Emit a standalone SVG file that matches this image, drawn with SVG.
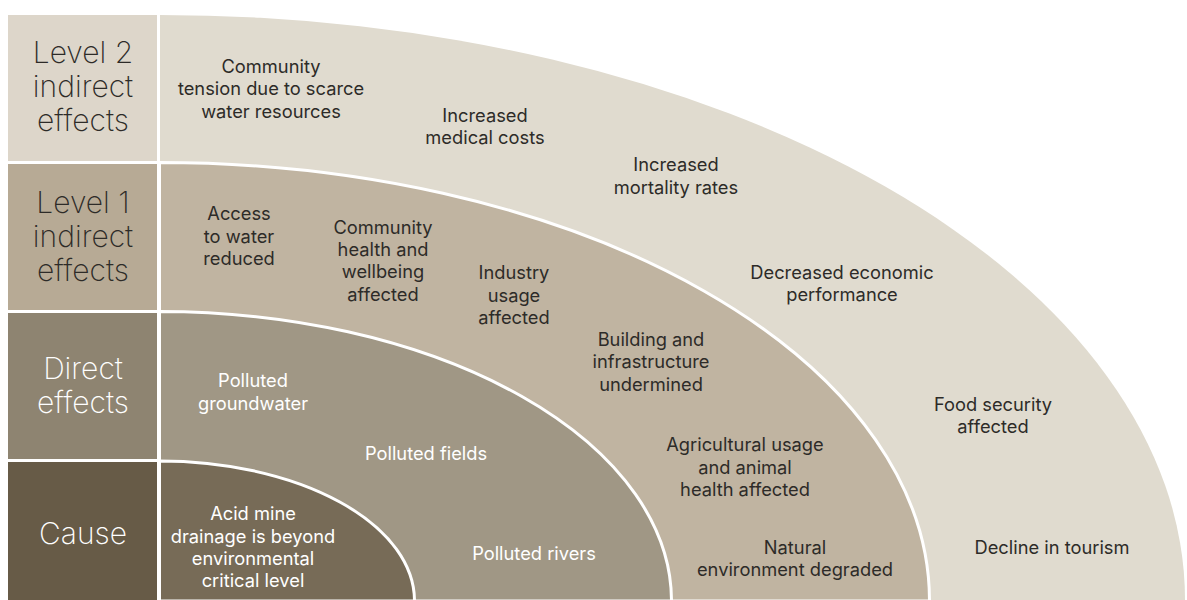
<svg xmlns="http://www.w3.org/2000/svg" width="1187" height="600" viewBox="0 0 1187 600">
  <style>
    .lbl { font-family: Inter, "Liberation Sans", sans-serif; font-size: 30px; font-weight: 200; text-anchor: middle; }
    .txt { font-family: Inter, "Liberation Sans", sans-serif; font-size: 18.3px; font-weight: 400; text-anchor: middle; }
    .dark { fill: #2d2b28; }
    .light { fill: #ffffff; }
    .band { stroke: #ffffff; stroke-width: 3; }
  </style>
  <rect width="1187" height="600" fill="#ffffff"/>

  <!-- concentric quarter-ellipse bands, outermost first -->
  <g id="bands">
    <path id="band-level2" d="M160,600 L160,15 A1025,585 0 0 1 1185,600 Z" fill="#e0dbcf"/>
    <path id="band-level1" class="band" d="M159.5,601 L159.5,162.5 A770,438.5 0 0 1 929.5,601 Z" fill="#c0b4a1"/>
    <path id="band-direct" class="band" d="M159.5,601 L159.5,311.5 A512,289.5 0 0 1 671.5,601 Z" fill="#a09785"/>
    <path id="band-cause" class="band" d="M159.5,601 L159.5,461 A255,140 0 0 1 414.5,601 Z" fill="#776b57"/>
  </g>

  <!-- row headings -->
  <g id="head-level2">
    <rect x="8" y="15" width="149" height="146" fill="#ddd6ca"/>
    <text class="lbl dark" x="83" y="63">Level 2</text>
    <text class="lbl dark" x="83" y="97">indirect</text>
    <text class="lbl dark" x="83" y="131">effects</text>
  </g>
  <g id="head-level1">
    <rect x="8" y="164" width="149" height="146" fill="#b7aa95"/>
    <text class="lbl dark" x="83" y="213">Level 1</text>
    <text class="lbl dark" x="83" y="247">indirect</text>
    <text class="lbl dark" x="83" y="281">effects</text>
  </g>
  <g id="head-direct">
    <rect x="8" y="313" width="149" height="146" fill="#8e8471"/>
    <text class="lbl light" x="83" y="379">Direct</text>
    <text class="lbl light" x="83" y="413">effects</text>
  </g>
  <g id="head-cause">
    <rect x="8" y="462" width="149" height="138" fill="#675b47"/>
    <text class="lbl light" x="83" y="544">Cause</text>
  </g>

  <!-- level 2 indirect effects -->
  <g id="n-tension">
    <text class="txt dark" x="271" y="73">Community</text>
    <text class="txt dark" x="271" y="95">tension due to scarce</text>
    <text class="txt dark" x="271" y="118">water resources</text>
  </g>
  <g id="n-medical">
    <text class="txt dark" x="485" y="122">Increased</text>
    <text class="txt dark" x="485" y="144">medical costs</text>
  </g>
  <g id="n-mortality">
    <text class="txt dark" x="676" y="171">Increased</text>
    <text class="txt dark" x="676" y="194">mortality rates</text>
  </g>
  <g id="n-economic">
    <text class="txt dark" x="842" y="279">Decreased economic</text>
    <text class="txt dark" x="842" y="301">performance</text>
  </g>
  <g id="n-food">
    <text class="txt dark" x="993" y="411">Food security</text>
    <text class="txt dark" x="993" y="433">affected</text>
  </g>
  <g id="n-tourism">
    <text class="txt dark" x="1052" y="554">Decline in tourism</text>
  </g>

  <!-- level 1 indirect effects -->
  <g id="n-access">
    <text class="txt dark" x="239" y="220">Access</text>
    <text class="txt dark" x="239" y="243">to water</text>
    <text class="txt dark" x="239" y="265">reduced</text>
  </g>
  <g id="n-health">
    <text class="txt dark" x="383" y="234">Community</text>
    <text class="txt dark" x="383" y="256">health and</text>
    <text class="txt dark" x="383" y="278">wellbeing</text>
    <text class="txt dark" x="383" y="301">affected</text>
  </g>
  <g id="n-industry">
    <text class="txt dark" x="514" y="279">Industry</text>
    <text class="txt dark" x="514" y="302">usage</text>
    <text class="txt dark" x="514" y="324">affected</text>
  </g>
  <g id="n-infrastructure">
    <text class="txt dark" x="651" y="346">Building and</text>
    <text class="txt dark" x="651" y="368">infrastructure</text>
    <text class="txt dark" x="651" y="391">undermined</text>
  </g>
  <g id="n-agriculture">
    <text class="txt dark" x="745" y="451">Agricultural usage</text>
    <text class="txt dark" x="745" y="474">and animal</text>
    <text class="txt dark" x="745" y="496">health affected</text>
  </g>
  <g id="n-environment">
    <text class="txt dark" x="795" y="554">Natural</text>
    <text class="txt dark" x="795" y="576">environment degraded</text>
  </g>

  <!-- direct effects -->
  <g id="n-groundwater">
    <text class="txt light" x="253" y="387">Polluted</text>
    <text class="txt light" x="253" y="410">groundwater</text>
  </g>
  <g id="n-fields">
    <text class="txt light" x="426" y="460">Polluted fields</text>
  </g>
  <g id="n-rivers">
    <text class="txt light" x="534" y="560">Polluted rivers</text>
  </g>

  <!-- cause -->
  <g id="n-drainage">
    <text class="txt light" x="253" y="520">Acid mine</text>
    <text class="txt light" x="253" y="543">drainage is beyond</text>
    <text class="txt light" x="253" y="565">environmental</text>
    <text class="txt light" x="253" y="587">critical level</text>
  </g>

  <!-- no connectors in this chart -->
  <g id="connectors"/>
</svg>
